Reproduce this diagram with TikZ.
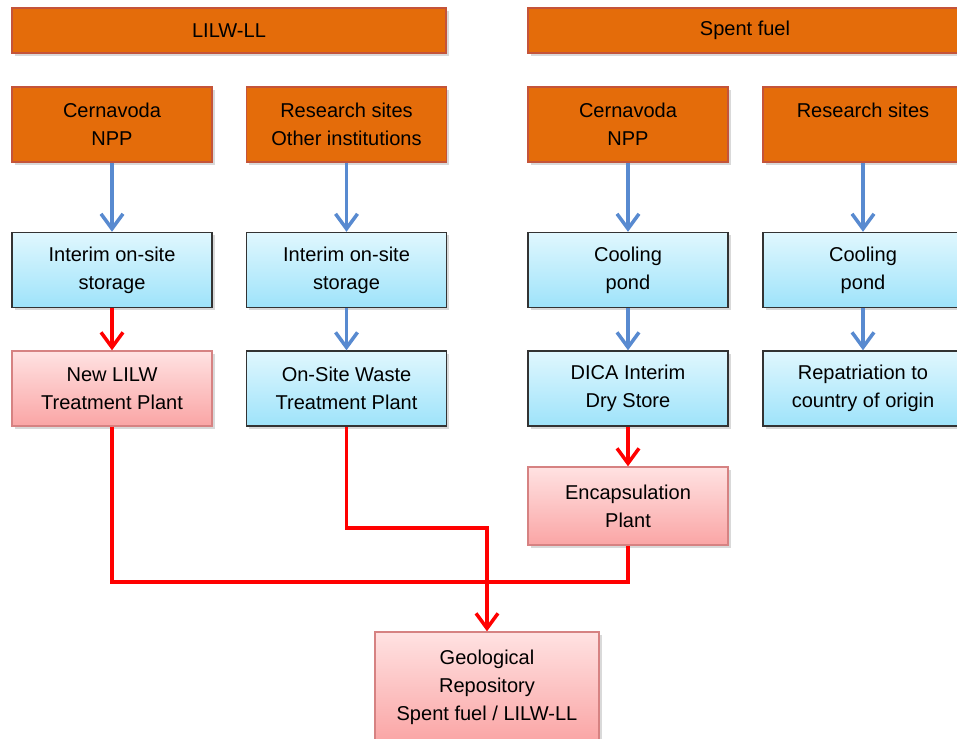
\documentclass[tikz,border=0pt]{standalone}
\usepackage{fontspec}
\setmainfont{Liberation Sans}
\usetikzlibrary{arrows.meta,shadows}
\definecolor{srcorange}{RGB}{228,108,10}
\definecolor{srcedge}{RGB}{196,84,58}
\definecolor{storetop}{RGB}{224,247,254}
\definecolor{storebot}{RGB}{158,227,250}
\definecolor{planttop}{RGB}{255,226,226}
\definecolor{plantbot}{RGB}{250,165,165}
\definecolor{plantedge}{RGB}{214,130,130}
\definecolor{flowblue}{RGB}{88,138,208}

\begin{document}
\begin{tikzpicture}[x=0.02cm,y=-0.02cm,
  >={Straight Barb[length=3mm,width=4.4mm]},
  box/.style={minimum width=4cm,minimum height=1.5cm,inner sep=0pt,align=center,
    font=\fontsize{11.4}{15.9}\selectfont,line width=0.8pt,
    drop shadow={shadow xshift=1.5pt,shadow yshift=-1.5pt,opacity=0.3}},
  src/.style={box,fill=srcorange,draw=srcedge},
  store/.style={box,top color=storetop,bottom color=storebot,draw=black!80},
  plant/.style={box,top color=planttop,bottom color=plantbot,draw=plantedge},
  blueflow/.style={->,flowblue,line width=2pt},
  redflow/.style={->,red,line width=2pt},
  redline/.style={red,line width=2pt}]
  \useasboundingbox (0,0) rectangle (957,739);
  % Headers
  \node[src,minimum width=8.68cm,minimum height=0.9cm] (lilw) at (229,30.5) {LILW-LL};
  \node[src,minimum width=8.68cm,minimum height=0.9cm] (spent) at (745,30.5) {Spent fuel};
  % LILW-LL, Cernavoda
  \node[src] (cnppa) at (112,124.5) {Cernavoda\\NPP};
  \node[store] (interima) at (112,270) {Interim on-site\\storage};
  \node[plant] (lilwplant) at (112,388.5) {New LILW\\Treatment Plant};
  \draw[blueflow] (cnppa) -- (interima);
  \draw[redflow] (interima) -- (lilwplant);
  % LILW-LL, research sites
  \node[src] (resa) at (346.5,124.5) {Research sites\\Other institutions};
  \node[store] (interimb) at (346.5,270) {Interim on-site\\storage};
  \node[store] (onsite) at (346.5,388.5) {On-Site Waste\\Treatment Plant};
  \draw[blueflow] (resa) -- (interimb);
  \draw[blueflow] (interimb) -- (onsite);
  % Spent fuel, Cernavoda
  \node[src] (cnppb) at (628,124.5) {Cernavoda\\NPP};
  \node[store] (ponda) at (628,270) {Cooling\\pond};
  \node[store] (dica) at (628,388.5) {DICA Interim\\Dry Store};
  \node[plant,minimum height=1.56cm] (encap) at (628,506) {Encapsulation\\Plant};
  \draw[blueflow] (cnppb) -- (ponda);
  \draw[blueflow] (ponda) -- (dica);
  \draw[redflow] (dica) -- (encap);
  % Spent fuel, research sites
  \node[src] (resb) at (863,124.5) {Research sites\\~};
  \node[store] (pondb) at (863,270) {Cooling\\pond};
  \node[store] (repat) at (863,388.5) {Repatriation to\\country of origin};
  \draw[blueflow] (resb) -- (pondb);
  \draw[blueflow] (pondb) -- (repat);
  % Repository
  \node[plant,minimum width=4.48cm,minimum height=2.2cm] (geo) at (487,687)
    {Geological\\Repository\\Spent fuel / LILW-LL};
  \coordinate (collect) at (487,582);
  \coordinate (bend) at (487,528);
  \draw[redline] (lilwplant) |- (collect) -| (encap);
  \draw[redflow] (onsite) |- (bend) -- (geo);
\end{tikzpicture}
\end{document}
